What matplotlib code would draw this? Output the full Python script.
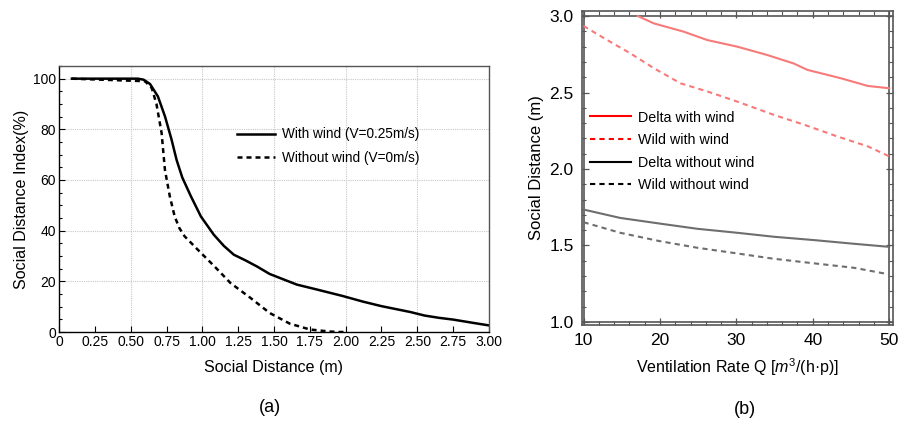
import matplotlib
matplotlib.use("Agg")
import matplotlib.pyplot as plt
from matplotlib.ticker import MultipleLocator
from matplotlib.lines import Line2D

plt.rcParams['font.family'] = ['Liberation Sans', 'DejaVu Sans']
plt.rcParams['mathtext.fontset'] = 'custom'
plt.rcParams['mathtext.rm'] = 'Liberation Sans'
plt.rcParams['mathtext.it'] = 'Liberation Sans:italic'

# ---- Panel (a) data ----
wind_x = [0.09, 0.55, 0.59, 0.635, 0.69, 0.74, 0.785, 0.82, 0.86, 0.92, 0.99, 1.08, 1.15, 1.22,
          1.30, 1.38, 1.47, 1.56, 1.66, 1.79, 1.98, 2.12, 2.25, 2.45, 2.55, 2.65, 2.75, 2.9, 3.0]
wind_y = [100, 100, 99.6, 97.9, 93, 85, 76, 68, 61, 53.6, 45.6, 38.4, 34, 30.5,
          28.3, 25.9, 22.9, 20.9, 18.7, 16.9, 14.2, 12.0, 10.2, 7.9, 6.5, 5.6, 4.9, 3.5, 2.6]
nowind_x = [0.09, 0.60, 0.647, 0.68, 0.716, 0.739, 0.773, 0.807, 0.84, 0.876, 0.968, 1.083,
            1.197, 1.335, 1.47, 1.61, 1.75, 1.885, 1.95, 2.0]
nowind_y = [100, 99, 96.3, 90, 78.5, 64, 53.6, 45.6, 41, 37.8, 32.5, 26,
            19.3, 13.5, 7.5, 3.3, 1.0, 0.2, 0.0, 0.0]
a_xticks = [0, 0.25, 0.5, 0.75, 1.0, 1.25, 1.5, 1.75, 2.0, 2.25, 2.5, 2.75, 3.0]
a_xticklabels = ['0', '0.25', '0.50', '0.75', '1.00', '1.25', '1.50', '1.75', '2.00',
                 '2.25', '2.50', '2.75', '3.00']
a_yticks = [0, 20, 40, 60, 80, 100]

# ---- Panel (b) data ----
dw_x = [17.1, 19.2, 23.1, 26.2, 30.1, 34.0, 37.5, 39.3, 43.7, 47.2, 50]
dw_y = [3.0, 2.952, 2.898, 2.843, 2.80, 2.746, 2.69, 2.648, 2.593, 2.543, 2.528]
ww_x = [10, 13.1, 16.1, 19.2, 22.7, 26.2, 30.1, 34.9, 38.9, 43.2, 47.2, 50]
ww_y = [2.935, 2.843, 2.757, 2.659, 2.56, 2.507, 2.441, 2.354, 2.289, 2.213, 2.148, 2.083]
dn_x = [10, 14.8, 20, 24.9, 30.1, 34.9, 40.2, 45.4, 50]
dn_y = [1.735, 1.68, 1.643, 1.609, 1.583, 1.557, 1.535, 1.511, 1.491]
wn_x = [10, 14.8, 20, 24.9, 30.1, 34.9, 40.2, 45.4, 50]
wn_y = [1.652, 1.583, 1.528, 1.485, 1.448, 1.413, 1.383, 1.354, 1.311]
b_xticks = [10, 20, 30, 40, 50]
b_yticks = [1.0, 1.5, 2.0, 2.5, 3.0]

W, H = 899, 425
fig = plt.figure(figsize=(W / 100, H / 100), dpi=100)

# ---------------- Panel (a) ----------------
axa = fig.add_axes([59 / W, (H - 332) / H, (489 - 59) / W, (332 - 66) / H])
axa.plot(wind_x, wind_y, color='black', lw=1.8, label='With wind (V=0.25m/s)')
axa.plot(nowind_x, nowind_y, color='black', lw=1.8, ls=(0, (2, 1.6)),
         label='Without wind (V=0m/s)')
axa.set_xlim(0, 3.0)
axa.set_ylim(0, 105)
axa.set_xticks(a_xticks)
axa.set_xticklabels(a_xticklabels)
axa.set_yticks(a_yticks)
axa.yaxis.set_minor_locator(MultipleLocator(5))
axa.tick_params(direction='in', labelsize=10, length=4, width=0.8, pad=2)
axa.tick_params(which='minor', direction='in', length=2.5, width=0.8)
for x in [0.5, 1.0, 1.5, 2.0, 2.5]:
    axa.axvline(x, color='#c8c8c8', lw=0.8, ls=(0, (1, 1)), zorder=0)
for y in [20, 40, 60, 80, 100]:
    axa.axhline(y, color='#c8c8c8', lw=0.8, ls=(0, (1, 1)), zorder=0)
axa.spines['left'].set_color('black')
axa.spines['bottom'].set_color('black')
axa.spines['top'].set_color('#555555')
axa.spines['right'].set_color('#555555')
for s in axa.spines.values():
    s.set_linewidth(1.0)
axa.set_xlabel('Social Distance (m)', fontsize=11.5, labelpad=8)
axa.set_ylabel('Social Distance Index(%)', fontsize=11.5, labelpad=3)
axa.legend(loc='upper left', bbox_to_anchor=(0.386, 0.815), frameon=False,
           fontsize=9.8, handlelength=2.8, handletextpad=0.5, labelspacing=0.72)
fig.text(270 / W, 1 - 408 / H, '(a)', fontsize=13, ha='center', va='center')

# ---------------- Panel (b) ----------------
axb = fig.add_axes([582 / W, (H - 325) / H, (893 - 582) / W, (325 - 11) / H])
light_red = '#f77a7a'
gray = '#6e6e6e'
axb.plot(dw_x, dw_y, color=light_red, lw=1.5)
axb.plot(ww_x, ww_y, color=light_red, lw=1.5, ls=(0, (2.5, 2)))
axb.plot(dn_x, dn_y, color=gray, lw=1.5)
axb.plot(wn_x, wn_y, color=gray, lw=1.5, ls=(0, (2.5, 2)))
for x in [10, 50]:
    axb.axvline(x, color='#555555', lw=1.2, zorder=1)
for y in [1.0, 3.0]:
    axb.axhline(y, color='#555555', lw=1.2, zorder=1)
axb.set_xlim(9.8, 50.5)
axb.set_ylim(0.98, 3.033)
axb.set_xticks(b_xticks)
axb.set_yticks(b_yticks)
axb.set_yticklabels(['1.0', '1.5', '2.0', '2.5', '3.0'])
axb.xaxis.set_minor_locator(MultipleLocator(2))
axb.yaxis.set_minor_locator(MultipleLocator(0.1))
axb.tick_params(which='both', direction='in', top=True, right=True, color='#555555')
axb.tick_params(which='major', length=5, width=0.9, labelsize=12.5, pad=6)
axb.tick_params(which='minor', length=3, width=0.8)
for s in axb.spines.values():
    s.set_color('#555555')
    s.set_linewidth(1.2)
axb.set_xlabel('Ventilation Rate Q [$m^3$/(h·p)]', fontsize=11.5, labelpad=6)
axb.set_ylabel('Social Distance (m)', fontsize=12, labelpad=4)

handles = [Line2D([], [], color='red', lw=1.5),
           Line2D([], [], color='red', lw=1.5, ls=(0, (2.5, 2))),
           Line2D([], [], color='black', lw=1.5),
           Line2D([], [], color='black', lw=1.5, ls=(0, (2.5, 2)))]
labels = ['Delta with wind', 'Wild with wind', 'Delta without wind', 'Wild without wind']
axb.legend(handles, labels, loc='upper left', bbox_to_anchor=(-0.005, 0.715), frameon=False,
           fontsize=10.3, handlelength=2.8, handletextpad=0.5, labelspacing=0.6,
           borderaxespad=0.3)
fig.text(745 / W, 1 - 410 / H, '(b)', fontsize=13, ha='center', va='center')

fig.savefig('out.png', dpi=100, facecolor='white')
